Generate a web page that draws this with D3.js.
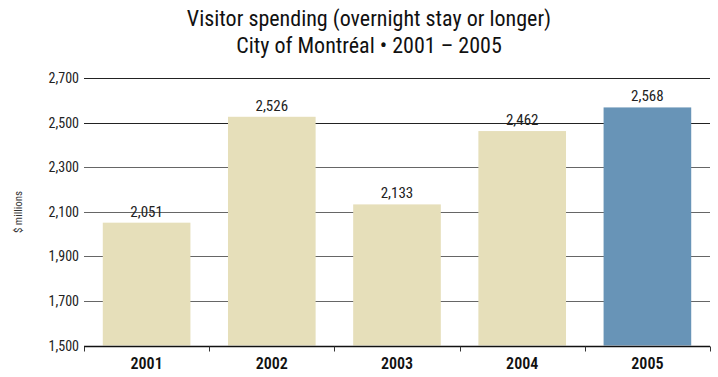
<!DOCTYPE html>
<html><head><meta charset="utf-8">
<script src="https://cdn.jsdelivr.net/npm/d3@7"></script>
<style>
body{margin:0;background:#fff;}
text{font-family:"Liberation Sans Narrow","Roboto Condensed","Liberation Sans",sans-serif;}
</style></head>
<body><svg id="c" width="718" height="377"></svg>
<script>
const years = ["2001","2002","2003","2004","2005"];
const spending = [2051, 2526, 2133, 2462, 2568];
const yTicks = [1500, 1700, 1900, 2100, 2300, 2500, 2700];
const titleLines = ["Visitor spending (overnight stay or longer)", "City of Montréal • 2001 – 2005"];
const yLabel = "$ millions";

const svg = d3.select("#c");
const plotLeft = 84, plotRight = 710, plotTop = 78, plotBottom = 345.5;
const x = d3.scaleBand().domain(years).range([plotLeft, plotRight]).paddingInner(0.3).paddingOuter(0.15);
const y = d3.scaleLinear().domain([1500, 2700]).range([plotBottom, plotTop]);

// title
svg.selectAll("text.title").data(titleLines).join("text")
  .attr("class","title").attr("x", 369).attr("y", (d,i)=>26+i*27)
  .attr("text-anchor","middle").attr("font-size", 22).attr("fill","#111")
  .text(d=>d);

// gridlines
svg.append("g").selectAll("line").data(yTicks.slice(1)).join("line")
  .attr("x1", plotLeft).attr("x2", plotRight)
  .attr("y1", d=>Math.round(y(d))+0.5).attr("y2", d=>Math.round(y(d))+0.5)
  .attr("stroke", d=> d>=2500 ? "#222" : "#666").attr("stroke-width",1);

// y tick labels
svg.append("g").selectAll("text").data(yTicks).join("text")
  .attr("x", 79).attr("y", d=>y(d)+5)
  .attr("text-anchor","end").attr("font-size",14).attr("fill","#222")
  .text(d=>d3.format(",")(d));

// y label
svg.append("text").attr("transform","translate(22,212) rotate(-90)")
  .attr("text-anchor","middle").attr("font-size",11).attr("fill","#333").text(yLabel);

// bars
svg.append("g").selectAll("rect").data(years).join("rect")
  .attr("x", d=>x(d)).attr("width", x.bandwidth())
  .attr("y", (d,i)=>y(spending[i])).attr("height",(d,i)=>plotBottom - y(spending[i]))
  .attr("fill", (d,i)=> i===4 ? "#6894b7" : "#e6dfba");

// value labels
svg.append("g").selectAll("text").data(years).join("text")
  .attr("x", d=>x(d)+x.bandwidth()/2).attr("y",(d,i)=>y(spending[i])-6)
  .attr("text-anchor","middle").attr("font-size",15).attr("fill","#222")
  .text((d,i)=>d3.format(",")(spending[i]));

// x axis
const xAxis = svg.append("g").attr("transform", `translate(0,${Math.round(plotBottom)+0.5})`);
xAxis.append("line").attr("x1",plotLeft).attr("x2",plotRight).attr("stroke","#111").attr("stroke-width",1.5);
const bounds = years.map(d=>x(d) - x.step()*x.paddingInner()/2 ).concat([plotRight]);
bounds[0] = plotLeft;
xAxis.selectAll("line.tk").data(bounds).join("line").attr("class","tk")
  .attr("x1",d=>Math.round(d)+0.5).attr("x2",d=>Math.round(d)+0.5).attr("y1",0).attr("y2",5)
  .attr("stroke","#333");
xAxis.selectAll("text").data(years).join("text")
  .attr("x", d=>x(d)+x.bandwidth()/2).attr("y", 22)
  .attr("text-anchor","middle").attr("font-size",16).attr("font-weight",600).attr("fill","#111")
  .text(d=>d);
</script></body></html>
